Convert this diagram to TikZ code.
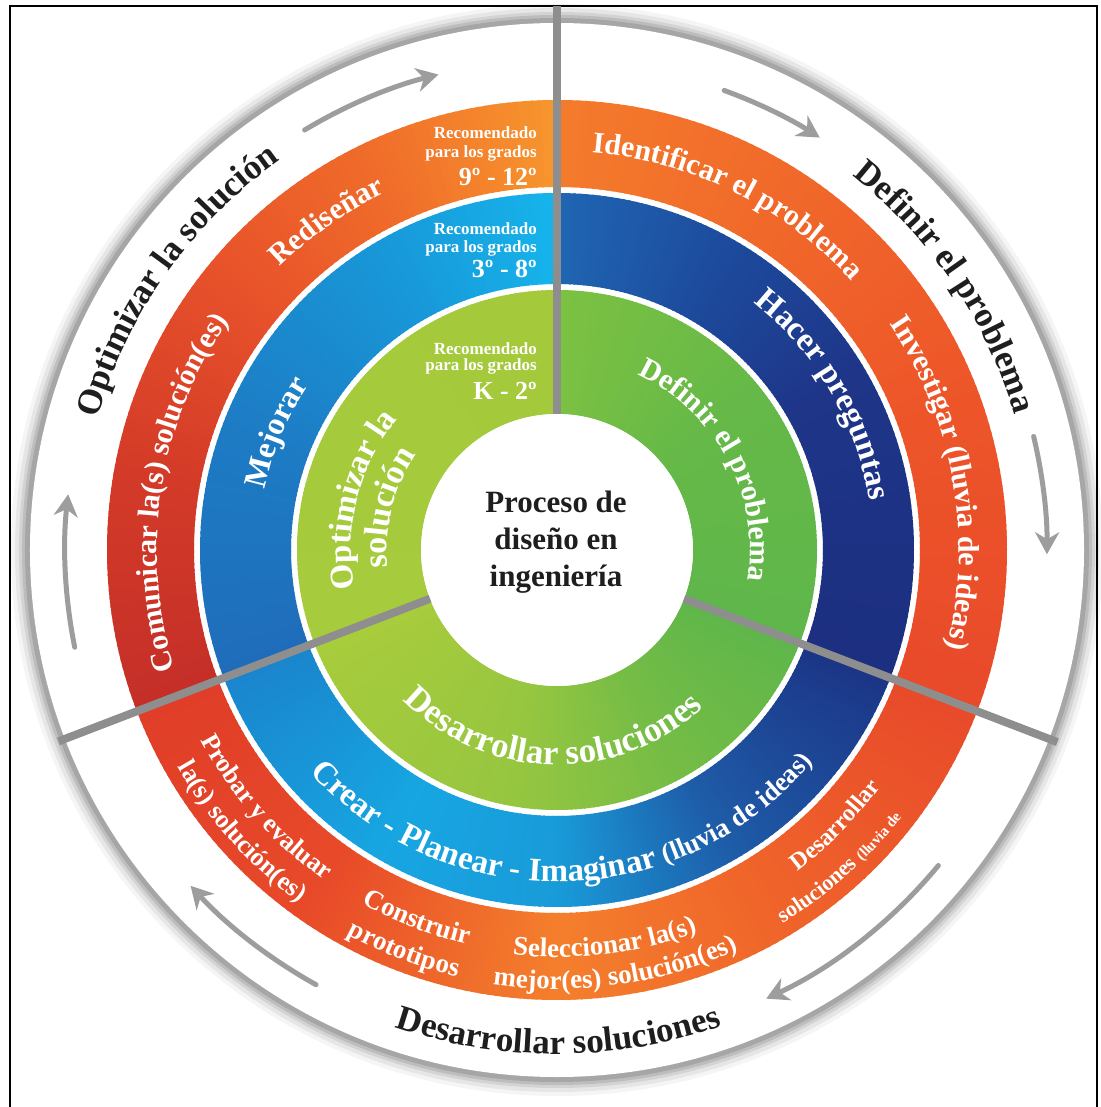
\documentclass[tikz,border=0pt]{standalone}
\usepackage{fontspec}
\setmainfont{Liberation Serif}
\usetikzlibrary{decorations.text,arrows.meta}

% ---------- colours ----------
\definecolor{ink}{HTML}{1E1E1E}
\definecolor{divgray}{HTML}{8E8E8E}
\definecolor{arrowgray}{HTML}{9D9D9D}
% orange ring
\definecolor{oR1}{HTML}{E84A2A}\definecolor{oR2}{HTML}{ED5529}
\definecolor{oR3}{HTML}{F16A2A}\definecolor{oR4}{HTML}{F47B2C}
\definecolor{oL1}{HTML}{F7962E}\definecolor{oL2}{HTML}{F06D2A}
\definecolor{oL3}{HTML}{E8522A}\definecolor{oL4}{HTML}{D33A28}
\definecolor{oL5}{HTML}{C42F28}
\definecolor{oB1}{HTML}{E03E28}\definecolor{oB2}{HTML}{E84A29}
\definecolor{oB3}{HTML}{F47F2C}\definecolor{oB4}{HTML}{F0652A}
% blue ring
\definecolor{bR1}{HTML}{1C2F80}\definecolor{bR2}{HTML}{1E3588}
\definecolor{bR3}{HTML}{1D4A9C}\definecolor{bR4}{HTML}{1F66B3}
\definecolor{bL1}{HTML}{16B4EC}\definecolor{bL2}{HTML}{1898D8}
\definecolor{bL3}{HTML}{1D7BC4}\definecolor{bL4}{HTML}{1F6DBA}
\definecolor{bB1}{HTML}{1A85CC}\definecolor{bB2}{HTML}{17A6E2}
\definecolor{bB3}{HTML}{199BD9}\definecolor{bB4}{HTML}{1E5CA8}
\definecolor{bB5}{HTML}{1C3486}
% green ring
\definecolor{gR1}{HTML}{5FB64A}\definecolor{gR2}{HTML}{66B948}
\definecolor{gR3}{HTML}{7CC142}
\definecolor{gL1}{HTML}{A4C93B}\definecolor{gL2}{HTML}{A6CB3C}
\definecolor{gB1}{HTML}{A8CC3C}\definecolor{gB2}{HTML}{96C640}
\definecolor{gB3}{HTML}{74BC46}

% annular band r1..r2 from angle a to angle b, colour blended from colA (at a) to colB (at b)
\newcommand\ringband[6]{%
  \pgfmathtruncatemacro\rbLast{#4-1}%
  \foreach \ang in {#3,...,\rbLast}{%
    \pgfmathsetmacro\rbMix{100*(#4-\ang-0.5)/(#4-(#3))}%
    \fill[#5!\rbMix!#6] (\ang:#1) arc[start angle=\ang, end angle=\ang+1.4, radius=#1]
      -- (\ang+1.4:#2) arc[start angle=\ang+1.4, end angle=\ang, radius=#2] -- cycle;
  }}

% curved labels: colour, centre angle, baseline radius, font size, text
\newcommand\cwlabel[5]{%
  \path[decorate, decoration={text along path, text align=center, text color=#1,
    text={|\fontsize{#4}{#4}\selectfont\bfseries|#5}}]
    ({#2+85}:#3) arc[start angle={#2+85}, end angle={#2-85}, radius=#3];}
\newcommand\ccwlabel[5]{%
  \path[decorate, decoration={text along path, text align=center, text color=#1,
    text={|\fontsize{#4}{#4}\selectfont\bfseries|#5}}]
    ({#2-85}:#3) arc[start angle={#2-85}, end angle={#2+85}, radius=#3];}

\begin{document}
\begin{tikzpicture}[x=1pt,y=1pt,
  divider/.style={draw=divgray, line width=8},
  flecha/.style={draw=arrowgray, line width=5, line cap=round,
    -{Stealth[length=22pt,width=24pt,inset=7pt]}},
  reco/.style={text=white, font=\fontsize{17}{17}\selectfont\bfseries, anchor=base east, inner sep=0},
  grado/.style={text=white, font=\fontsize{26}{26}\selectfont\bfseries, anchor=base east, inner sep=0}]

\useasboundingbox (-557,-557) rectangle (543,550);
\fill[white] (-557,-557) rectangle (543,550);

% frame
\draw[line width=2] (-547,-570) -- (-547,544) -- (540,544) -- (540,-570);

% soft shadow round the outer disk
\foreach \r/\o in {546/0.04,542/0.06,538/0.08,535/0.10,532/0.12}
  \fill[black, opacity=\o] (0,0) circle[radius=\r];
\fill[white] (0,0) circle[radius=527];

% ---------- orange ring ----------
\ringband{363}{450}{-21}{20}{oR1}{oR2}
\ringband{363}{450}{20}{60}{oR2}{oR3}
\ringband{363}{450}{60}{90}{oR3}{oR4}
\ringband{363}{450}{90}{115}{oL1}{oL2}
\ringband{363}{450}{115}{140}{oL2}{oL3}
\ringband{363}{450}{140}{170}{oL3}{oL4}
\ringband{363}{450}{170}{201}{oL4}{oL5}
\ringband{363}{450}{201}{235}{oB1}{oB2}
\ringband{363}{450}{235}{270}{oB2}{oB3}
\ringband{363}{450}{270}{300}{oB3}{oB4}
\ringband{363}{450}{300}{339}{oB4}{oR1}

% ---------- blue ring ----------
\ringband{266}{357}{-21}{30}{bR1}{bR2}
\ringband{266}{357}{30}{60}{bR2}{bR3}
\ringband{266}{357}{60}{90}{bR3}{bR4}
\ringband{266}{357}{90}{120}{bL1}{bL2}
\ringband{266}{357}{120}{160}{bL2}{bL3}
\ringband{266}{357}{160}{201}{bL3}{bL4}
\ringband{266}{357}{201}{240}{bB1}{bB2}
\ringband{266}{357}{240}{270}{bB2}{bB3}
\ringband{266}{357}{270}{300}{bB3}{bB4}
\ringband{266}{357}{300}{339}{bB4}{bB5}

% ---------- green ring ----------
\ringband{136}{260}{-21}{40}{gR1}{gR2}
\ringband{136}{260}{40}{90}{gR2}{gR3}
\ringband{136}{260}{90}{201}{gL1}{gL2}
\ringband{136}{260}{201}{260}{gB1}{gB2}
\ringband{136}{260}{260}{300}{gB2}{gB3}
\ringband{136}{260}{300}{339}{gB3}{gR1}

% centre disk
\fill[white] (0,0) circle[radius=136];

% ---------- dividers ----------
\draw[divider] (90:136) -- (90:544);
\draw[divider] (201:136) -- (201:534);
\draw[divider] (339:136) -- (339:536);

% ---------- cycle arrows ----------
\draw[flecha] (121:490) arc[start angle=121, end angle=104, radius=490];
\draw[flecha] (70:489) arc[start angle=70, end angle=57.5, radius=489];
\draw[flecha] (13.4:490) arc[start angle=13.4, end angle=-0.5, radius=490];
\draw[flecha] (-39.6:495) arc[start angle=-39.6, end angle=-65, radius=495];
\draw[flecha] (241:497) arc[start angle=241, end angle=222.5, radius=497];
\draw[flecha] (191.4:492) arc[start angle=191.4, end angle=173.5, radius=492];

% ---------- outer labels ----------
\cwlabel{ink}{144.7}{478}{35}{Optimizar la solución}
\cwlabel{ink}{34.1}{477}{35}{Definir el problema}
\ccwlabel{ink}{270.2}{504}{35}{Desarrollar soluciones}

% ---------- orange ring labels ----------
\cwlabel{white}{63.7}{399}{30}{Identificar el problema}
\cwlabel{white}{10.1}{402}{30}{Investigar (lluvia de ideas)}
\cwlabel{white}{125}{396}{30}{Rediseñar}
\cwlabel{white}{171.2}{400}{30}{Comunicar la(s) solución(es)}
\ccwlabel{white}{221.5}{404}{26}{Probar y evaluar}
\ccwlabel{white}{221.8}{437}{26}{la(s) solución(es)}
\ccwlabel{white}{249.2}{404}{27}{Construir}
\ccwlabel{white}{249.1}{438}{27}{prototipos}
\ccwlabel{white}{277}{407}{27}{Seleccionar la(s)}
\ccwlabel{white}{278}{439}{27}{mejor(es) solución(es)}
\ccwlabel{white}{315.3}{401}{24}{Desarrollar}
\ccwlabel{white}{311.7}{436}{22}{soluciones |\fontsize{15}{15}\selectfont\bfseries|(lluvia de}

% ---------- blue ring labels ----------
\cwlabel{white}{30.2}{316}{33}{Hacer preguntas}
\cwlabel{white}{157.3}{298}{32}{Mejorar}
\ccwlabel{white}{271.2}{332}{33}{Crear - Planear - Imaginar |\fontsize{27}{27}\selectfont\bfseries|(lluvia de ideas)}

% ---------- green ring labels ----------
\cwlabel{white}{28.2}{193}{30}{Definir el problema}
\cwlabel{white}{165.7}{206}{33}{Optimizar la}
\cwlabel{white}{166}{170}{34}{solución}
\ccwlabel{white}{268.6}{215}{35}{Desarrollar soluciones}

% ---------- grade notes ----------
\node[reco]  (o1) at (-20,411) {Recomendado};
\node[reco]  (o2) at (-20,392) {para los grados};
\node[grado] (o3) at (-20,364) {9º - 12º};
\node[reco]  (b1) at (-20,315) {Recomendado};
\node[reco]  (b2) at (-20,297) {para los grados};
\node[grado] (b3) at (-20,272) {3º - 8º};
\node[reco]  (g1) at (-20,195) {Recomendado};
\node[reco]  (g2) at (-20,179) {para los grados};
\node[grado] (g3) at (-20,150) {K - 2º};

% ---------- centre title ----------
\node[font=\fontsize{31}{37}\selectfont\bfseries, align=center, text=ink] (titulo) at (-1,8)
  {Proceso de\\diseño en\\ingeniería};

\end{tikzpicture}
\end{document}
